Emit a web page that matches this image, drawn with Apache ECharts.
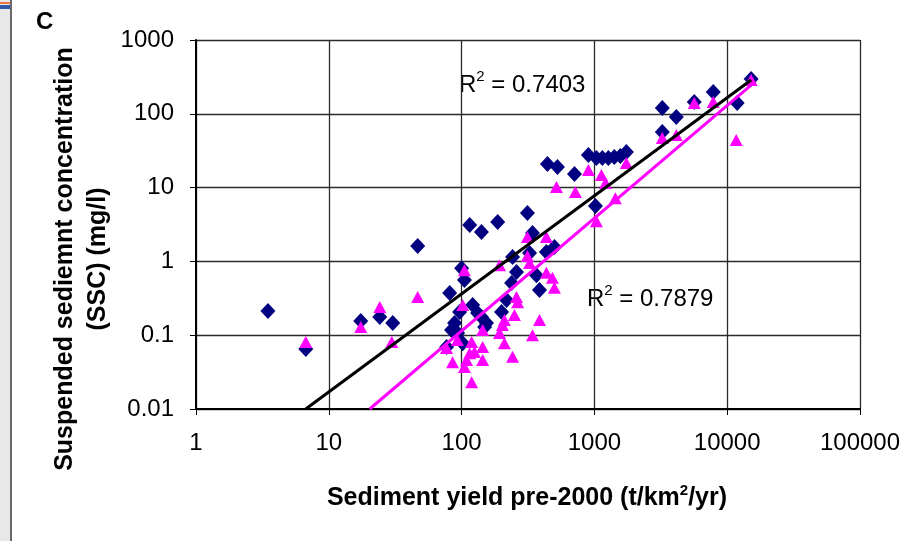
<!DOCTYPE html>
<html>
<head>
<meta charset="utf-8">
<script src="https://cdn.jsdelivr.net/npm/echarts@6/dist/echarts.min.js"></script>
<style>
  html, body { margin: 0; padding: 0; background: #fff; }
  #chart { width: 917px; height: 541px; }
</style>
</head>
<body>
<div id="chart"></div>
<script>
// sediment yield (t/km2/yr) vs SSC (mg/l)
var navyYield = [3.48, 6.71, 17.4, 24.2, 30.3, 46.7, 81.3, 100, 115, 141, 187, 313,
    443, 527, 708, 901, 1035, 1148, 1274, 1413, 1567, 1740, 1018, 3245, 3245, 4137,
    5650, 7850, 11890, 15140, 242, 259, 325, 342, 435, 500, 386, 121, 132, 154,
    88.5, 93.3, 102, 77.1, 218, 200, 238, 105, 141, 149, 84, 366, 96.6];
var navySSC = [0.213, 0.065, 0.156, 0.177, 0.146, 1.62, 0.373, 0.81, 3.11, 2.5, 3.42, 4.53,
    20.9, 19, 15.3, 27.7, 25.2, 25.2, 25.2, 26, 26.8, 30.4, 5.63, 120, 56.6, 90.5,
    144, 197, 140, 296, 1.15, 0.72, 1.3, 2.43, 1.34, 1.57, 0.41, 0.257, 0.2, 0.146,
    0.146, 0.107, 0.078, 0.069, 0.3, 0.206, 0.51, 0.56, 0.177, 0.129, 0.118, 0.65, 0.206];

var pinkYield = [6.71, 17.4, 24.2, 29.8, 46.7, 105, 102, 193, 313, 435, 325, 435,
    483, 500, 259, 264, 250, 386, 342, 210, 203, 210, 242, 144, 144, 115, 105, 119,
    85.5, 109, 77, 119, 518, 719, 901, 1130, 1211, 1438, 1035, 1740, 3245, 4137,
    5650, 7850, 11690, 15140, 144, 193, 125, 93, 313];
var pinkSSC = [0.081, 0.129, 0.241, 0.081, 0.33, 0.76, 0.257, 0.89, 2.14, 2.14, 0.95, 0.7,
    0.6, 0.44, 0.33, 0.28, 0.188, 0.161, 0.1, 0.161, 0.137, 0.078, 0.051, 0.069, 0.046, 0.057, 0.037, 0.023,
    0.043, 0.046, 0.067, 0.081, 10.2, 8.7, 17.3, 14.8, 11.5, 7.2, 3.5, 21.5, 47, 51.6,
    140, 144, 44, 287, 0.118, 0.107, 0.059, 0.086, 1.18];

// power trendlines, ends as drawn
var navyTrend = [[6.7, 0.01], [15140, 287]];
var pinkTrend = [[20.3, 0.01], [15140, 245]];

var xTicks = ['1', '10', '100', '1000', '10000', '100000'];
var yTicks = ['0.01', '0.1', '1', '10', '100', '1000'];

function pairs(xs, ys) {
    var d = [];
    for (var i = 0; i < xs.length; i++) d.push([xs[i], ys[i]]);
    return d;
}

var font = '"Liberation Sans", Arial, sans-serif';
var myChart = echarts.init(document.getElementById('chart'));
var option = {
    animation: false,
    grid: { left: 196, top: 40, width: 664, height: 369 },
    xAxis: {
        type: 'log', logBase: 10, min: 1, max: 100000,
        axisLine: { lineStyle: { color: '#000', width: 2 } },
        axisTick: { length: 6, lineStyle: { color: '#000' } },
        axisLabel: {
            margin: 22, color: '#000', fontFamily: font, fontSize: 24,
            formatter: function (v) { return xTicks[Math.round(Math.log10(v))]; }
        },
        splitLine: { show: true, lineStyle: { color: '#2a2a2a', width: 1.3 } },
        minorTick: { show: false }
    },
    yAxis: {
        type: 'log', logBase: 10, min: 0.01, max: 1000,
        axisLine: { lineStyle: { color: '#000', width: 2 } },
        axisTick: { length: 6, lineStyle: { color: '#000' } },
        axisLabel: {
            margin: 22, color: '#000', fontFamily: font, fontSize: 24,
            formatter: function (v) { return yTicks[Math.round(Math.log10(v)) + 2]; }
        },
        splitLine: { show: true, lineStyle: { color: '#2a2a2a', width: 1.3 } }
    },
    series: [
        {
            type: 'scatter', symbol: 'diamond', symbolSize: [15, 16],
            itemStyle: { color: '#000080', opacity: 1 },
            data: pairs(navyYield, navySSC)
        },
        {
            type: 'scatter', symbol: 'triangle', symbolSize: [13, 12],
            itemStyle: { color: '#ff00ff', opacity: 1 },
            data: pairs(pinkYield, pinkSSC)
        },
        {
            type: 'line', symbol: 'none', clip: true,
            lineStyle: { color: '#000', width: 3 },
            data: navyTrend
        },
        {
            type: 'line', symbol: 'none', clip: true,
            lineStyle: { color: '#ff00ff', width: 3 },
            data: pinkTrend
        }
    ],
    graphic: [
        { type: 'rect', shape: { x: 0, y: 0, width: 10, height: 541 }, style: { fill: '#e8e8e8' } },
        { type: 'rect', shape: { x: 10, y: 0, width: 2, height: 541 }, style: { fill: '#6a6a6a' } },
        { type: 'rect', shape: { x: 0, y: 2, width: 10, height: 2 }, style: { fill: '#e8783a' } },
        { type: 'rect', shape: { x: 0, y: 5, width: 10, height: 4 }, style: { fill: '#2f5aa8' } },
        {
            type: 'text', left: 36, top: 10,
            style: { text: 'C', font: 'bold 24px ' + font, fill: '#000' }
        },
        {
            type: 'text', x: 82, y: 259, rotation: Math.PI / 2,
            style: {
                text: 'Suspended sediemnt concentration\n(SSC) (mg/l)',
                font: 'bold 25px ' + font, fill: '#000',
                align: 'center', verticalAlign: 'middle', lineHeight: 33
            }
        },
        {
            type: 'text', x: 527, y: 497,
            style: {
                text: '{t|Sediment yield pre-2000 (t/km}{s|2}{t|/yr)}',
                align: 'center', verticalAlign: 'middle',
                rich: {
                    t: { font: 'bold 25px ' + font, fill: '#000', lineHeight: 28, verticalAlign: 'bottom' },
                    s: { font: 'bold 15px ' + font, fill: '#000', lineHeight: 28, verticalAlign: 'top' }
                }
            }
        },
        {
            type: 'text', x: 459, y: 83,
            style: {
                text: '{t|R}{s|2}{t| = 0.7403}',
                align: 'left', verticalAlign: 'middle',
                rich: {
                    t: { font: '24px ' + font, fill: '#000', lineHeight: 28, verticalAlign: 'bottom' },
                    s: { font: '15px ' + font, fill: '#000', lineHeight: 28, verticalAlign: 'top' }
                }
            }
        },
        {
            type: 'text', x: 587, y: 297,
            style: {
                text: '{t|R}{s|2}{t| = 0.7879}',
                align: 'left', verticalAlign: 'middle',
                rich: {
                    t: { font: '24px ' + font, fill: '#000', lineHeight: 28, verticalAlign: 'bottom' },
                    s: { font: '15px ' + font, fill: '#000', lineHeight: 28, verticalAlign: 'top' }
                }
            }
        }
    ]
};
myChart.setOption(option);
</script>
</body>
</html>
